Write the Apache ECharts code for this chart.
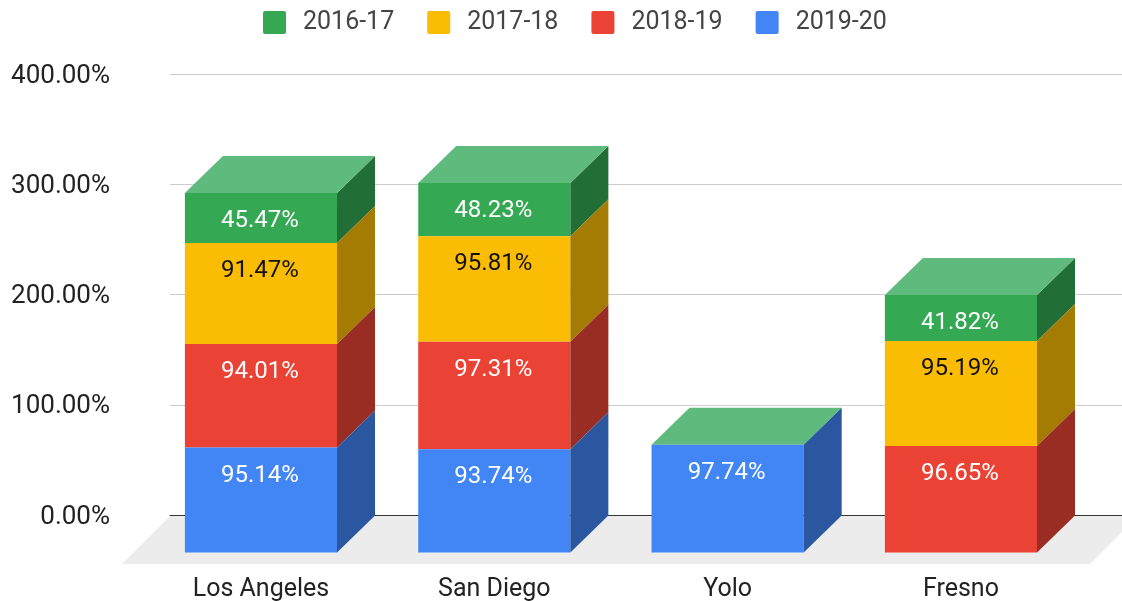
<!DOCTYPE html>
<html><head><meta charset="utf-8">
<style>html,body{margin:0;padding:0;background:#fff}#c{width:1122px;height:601px}</style>
<script src="https://cdn.jsdelivr.net/npm/echarts@6/dist/echarts.min.js"></script>
</head><body><div id="c"></div>
<script>
const categories = ['Los Angeles','San Diego','Yolo','Fresno'];
const v1920 = [95.14, 93.74, 97.74, 0];
const v1819 = [94.01, 97.31, 0, 96.65];
const v1718 = [91.47, 95.81, 0, 95.19];
const v1617 = [45.47, 48.23, 0, 41.82];
const stackOrder = [v1920, v1819, v1718, v1617];
const FONT = 'Roboto, sans-serif';
const DX = 38, DY = 37;
const WIDTH_RATIO = 0.652;

function barSeries(name, values, color, side, top, labelColor, showTop) {
  const idx = stackOrder.indexOf(values);
  return {
    name, type: 'custom', xAxisIndex: 1, yAxisIndex: 1, z: 3, clip: false,
    itemStyle: {color},
    data: categories.map((c, i) => [i, values[i]]),
    encode: {x: 0, y: 1},
    renderItem(params, api) {
      const i = api.value(0), val = api.value(1);
      let base = 0;
      for (let k = 0; k < idx; k++) base += stackOrder[k][i];
      const w = api.size([1, 0])[0] * WIDTH_RATIO;
      const p0 = api.coord([i, base]), p1 = api.coord([i, base + val]);
      const l = p0[0] - w / 2, r = p0[0] + w / 2, b = p0[1], t = p1[1];
      const children = [];
      if (val > 0) {
        children.push({type: 'polygon', shape: {points: [[l,b],[r,b],[r,t],[l,t]]}, style: {fill: color}});
        children.push({type: 'polygon', shape: {points: [[r,b],[r+DX,b-DY],[r+DX,t-DY],[r,t]]}, style: {fill: side}});
        children.push({type: 'text', z2: 5, style: {text: val.toFixed(2) + '%', x: p0[0] - 1, y: t + 28, align: 'center', verticalAlign: 'middle',
          fill: labelColor, font: '24px ' + FONT}});
      }
      if (showTop) {
        children.push({type: 'polygon', shape: {points: [[l,t],[r,t],[r+DX,t-DY],[l+DX,t-DY]]}, style: {fill: top}});
      }
      return {type: 'group', children};
    }
  };
}

const floorSeries = {
  name: 'floor', type: 'custom', xAxisIndex: 0, yAxisIndex: 0, z: 1, clip: false, silent: true,
  data: [[0, 0]], encode: {x: 0, y: 1},
  renderItem(params, api) {
    const cs = params.coordSys, y0 = api.coord([0, 0])[1] + 1;
    const d = 48, L = cs.x, R = cs.x + cs.width;
    return {type: 'polygon', shape: {points: [[L, y0], [R + 16, y0], [R + 16 - d, y0 + d], [L - d, y0 + d]]}, style: {fill: '#ececec'}};
  }
};

const chart = echarts.init(document.getElementById('c'));
chart.setOption({
  animation: false,
  backgroundColor: '#fff',
  legend: {
    top: 10, left: 263, padding: 0,
    icon: 'path://M2 0H21Q23 0 23 2V21Q23 23 21 23H2Q0 23 0 21V2Q0 0 2 0Z',
    itemWidth: 23, itemHeight: 23, itemGap: 33,
    data: ['2016-17','2017-18','2018-19','2019-20'],
    textStyle: {fontFamily: FONT, fontSize: 25, color: '#444', padding: [0,0,0,12]}
  },
  grid: [
    {left: 170, right: 0, top: 74, height: 441, outerBoundsMode: 'none'},
    {left: 144.3, width: 933.3, top: 111.5, height: 441, outerBoundsMode: 'none'}
  ],
  xAxis: [
    {type: 'category', gridIndex: 0, data: categories, axisLine: {show: true, lineStyle: {color: '#333', width: 1}},
      axisTick: {show: false}, axisLabel: {show: false}},
    {type: 'category', gridIndex: 1, data: categories, axisLine: {show: false}, axisTick: {show: false},
      axisLabel: {margin: 25, fontFamily: FONT, fontSize: 25, color: '#222'}}
  ],
  yAxis: [
    {type: 'value', gridIndex: 0, min: 0, max: 400, interval: 100, axisLine: {show: false}, axisTick: {show: false},
      axisLabel: {margin: 60, fontFamily: FONT, fontSize: 26, color: '#222', verticalAlign: 'top', lineHeight: 4, formatter: v => v.toFixed(2) + '%'},
      splitLine: {lineStyle: {color: '#cccccc', width: 1}}},
    {type: 'value', gridIndex: 1, min: 0, max: 400, show: false, splitLine: {show: false}}
  ],
  series: [
    floorSeries,
    barSeries('2016-17', v1617, '#34a853', '#226e37', '#5fba7d', '#ffffff', true),
    barSeries('2017-18', v1718, '#fbbc04', '#a47b03', '#fbbc04', '#111111', false),
    barSeries('2018-19', v1819, '#ea4335', '#992c23', '#ea4335', '#ffffff', false),
    barSeries('2019-20', v1920, '#4285f4', '#2b57a0', '#4285f4', '#ffffff', false)
  ]
});
</script></body></html>
